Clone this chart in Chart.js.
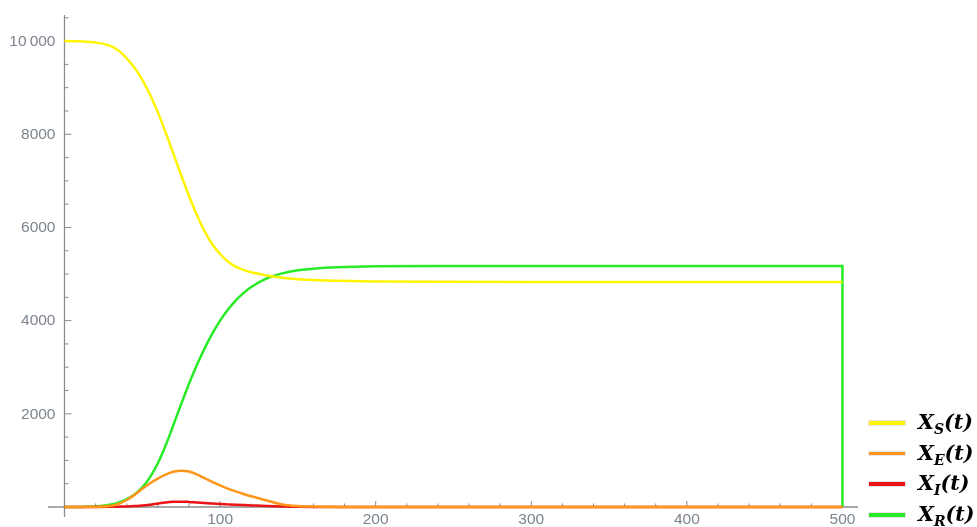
<!DOCTYPE html>
<html>
<head>
<meta charset="utf-8">
<script src="https://cdn.jsdelivr.net/npm/chart.js@4.4.1/dist/chart.umd.min.js"></script>
<style>
  html, body { margin: 0; padding: 0; background: #fff; }
  #wrap { position: relative; width: 977px; height: 527px; overflow: hidden; }
  #chart { position: absolute; left: 0; top: 0; }
  #legend { position: absolute; left: 869px; top: 407px; }
  .row { position: relative; height: 30.7px; white-space: nowrap; }
  .swatch { position: absolute; left: 0; top: 14px; width: 36px; height: 3.5px; }
  .lbl {
    position: absolute; left: 49px; top: 0; line-height: 30px;
    font-family: "DejaVu Serif", serif; font-weight: bold; font-style: italic;
    font-size: 20.5px; color: #000;
  }
  .lbl sub { font-size: 14px; vertical-align: -5px; line-height: 0; }
</style>
</head>
<body>
<div id="wrap">
  <canvas id="chart" width="977" height="527"></canvas>
  <div id="legend"></div>
</div>
<script>
  // tiempos de muestreo (comunes a las cuatro series)
  var tiempos = [0, 10, 20, 30, 35, 40, 45, 50, 55, 60, 65, 70, 75, 80, 85, 90, 95, 100, 105, 110, 115, 120, 130, 140, 150, 160, 175, 200, 250, 300, 400, 500];

  var serieS = [10000, 9995, 9970, 9890, 9790, 9630, 9430, 9170, 8850, 8470, 8040, 7580, 7120, 6680, 6270, 5920, 5640, 5430, 5270, 5160, 5090, 5040, 4970, 4920, 4890, 4870, 4855, 4840, 4832, 4830, 4830, 4830];
  var serieE = [0, 0, 3, 25, 70, 150, 260, 390, 510, 610, 695, 755, 780, 760, 700, 620, 540, 465, 395, 335, 280, 230, 140, 55, 20, 8, 2, 0, 0, 0, 0, 0];
  var serieI = [0, 0, 0, 3, 7, 12, 20, 30, 50, 75, 98, 112, 115, 108, 97, 86, 75, 65, 56, 47, 40, 34, 22, 12, 6, 2, 0, 0, 0, 0, 0, 0];
  var serieR = [0, 2, 15, 55, 100, 170, 270, 420, 640, 940, 1320, 1760, 2210, 2640, 3040, 3400, 3720, 4000, 4235, 4430, 4590, 4720, 4905, 5015, 5080, 5115, 5145, 5165, 5172, 5175, 5175, 5175];
  // caída final de X_R en t = 500
  var caidaR = { t: 500, valor: 0 };

  var subindices = ['S', 'E', 'I', 'R'];

  var xTicks = [100, 200, 300, 400, 500];
  var xTickLabels = ['100', '200', '300', '400', '500'];
  var yTicks = [2000, 4000, 6000, 8000, 10000];
  var yTickLabels = ['2000', '4000', '6000', '8000', '10\u2009000'];

  var COLORES = ['rgb(255, 245, 0)', 'rgb(255, 150, 25)', 'rgb(235, 20, 20)', 'rgb(40, 235, 40)'];
  var COLOR_EJE = 'rgb(140, 140, 140)';
  var COLOR_TEXTO = 'rgb(125, 132, 142)';

  function puntos(vals) {
    return tiempos.map(function (t, i) { return { x: t, y: vals[i] }; });
  }

  var datosR = puntos(serieR).concat([{ x: caidaR.t, y: caidaR.valor }]);
  var series = [puntos(serieS), puntos(serieE), puntos(serieI), datosR];

  var datasets = series.map(function (d, i) {
    return {
      label: 'X' + subindices[i] + '(t)',
      data: d,
      borderColor: COLORES[i],
      backgroundColor: COLORES[i],
      borderWidth: 2.5,
      pointRadius: 0,
      fill: false,
      cubicInterpolationMode: 'monotone'
    };
  });

  // ejes tipo Mathematica: cruzan en el origen, marcas hacia dentro
  var ejesPlugin = {
    id: 'ejes',
    beforeDatasetsDraw: function (chart) {
      var ctx = chart.ctx, a = chart.chartArea;
      var sx = chart.scales.x, sy = chart.scales.y;
      var x0 = sx.getPixelForValue(0), y0 = sy.getPixelForValue(0);
      ctx.save();
      ctx.strokeStyle = COLOR_EJE;
      ctx.lineWidth = 1.3;
      ctx.beginPath();
      ctx.moveTo(a.left, y0); ctx.lineTo(a.right, y0);
      ctx.moveTo(x0, a.top); ctx.lineTo(x0, a.bottom);
      ctx.stroke();

      ctx.lineWidth = 1;
      ctx.beginPath();
      var v, p;
      for (v = 20; v <= sx.max; v += 20) {
        p = sx.getPixelForValue(v);
        var largo = (v % 100 === 0) ? 6 : 3.5;
        ctx.moveTo(p, y0); ctx.lineTo(p, y0 - largo);
      }
      for (v = 500; v <= sy.max; v += 500) {
        p = sy.getPixelForValue(v);
        var l2 = (v % 2000 === 0) ? 7 : 4;
        ctx.moveTo(x0, p); ctx.lineTo(x0 + l2, p);
      }
      ctx.stroke();

      ctx.fillStyle = COLOR_TEXTO;
      ctx.font = '15.5px "Liberation Sans", Arial, sans-serif';
      ctx.textAlign = 'center';
      ctx.textBaseline = 'middle';
      xTicks.forEach(function (t, i) {
        ctx.fillText(xTickLabels[i], sx.getPixelForValue(t), y0 + 13);
      });
      ctx.textAlign = 'right';
      yTicks.forEach(function (t, i) {
        ctx.fillText(yTickLabels[i], x0 - 9, sy.getPixelForValue(t) + 0.5);
      });
      ctx.restore();
    }
  };

  new Chart(document.getElementById('chart').getContext('2d'), {
    type: 'line',
    data: { datasets: datasets },
    plugins: [ejesPlugin],
    options: {
      responsive: false,
      animation: false,
      layout: { padding: { left: 48, right: 119, top: 15, bottom: 10 } },
      plugins: { legend: { display: false }, tooltip: { enabled: false } },
      scales: {
        x: { type: 'linear', min: -10.6, max: 510, display: false },
        y: { type: 'linear', min: -215, max: 10560, display: false }
      }
    }
  });

  // leyenda en HTML (subíndices como texto real)
  var leyenda = document.getElementById('legend');
  subindices.forEach(function (s, i) {
    var fila = document.createElement('div');
    fila.className = 'row';
    fila.innerHTML = '<span class="swatch" style="background:' + COLORES[i] +
      ';box-shadow:0 0 0 0.7px rgba(0,0,0,0.15)"></span>' +
      '<span class="lbl">X<sub>' + s + '</sub>(t)</span>';
    leyenda.appendChild(fila);
  });
</script>
</body>
</html>
